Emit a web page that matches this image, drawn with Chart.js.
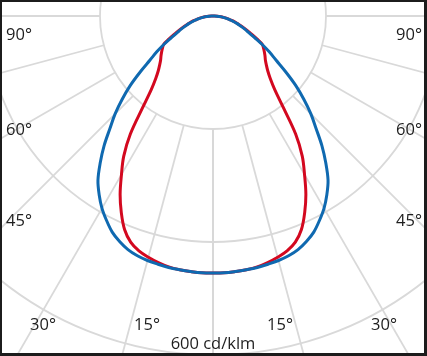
<!DOCTYPE html>
<html><head><meta charset="utf-8">
<script src="https://cdn.jsdelivr.net/npm/chart.js@4/dist/chart.umd.min.js"></script>
<style>
html,body{margin:0;padding:0;background:#fff;}
#wrap{position:relative;width:427px;height:356px;overflow:hidden;background:#fff;}
canvas{position:absolute;left:0;top:0;}
#frame{position:absolute;left:0;top:0;width:427px;height:356px;border:2px solid #1c1c1c;border-right-width:3px;border-bottom-width:3px;box-sizing:border-box;pointer-events:none;}
</style></head><body>
<div id="wrap"><canvas id="c" width="427" height="356"></canvas><div id="frame"></div></div>
<script>
// gamma angles (degrees from nadir), one half of the symmetric curve
const halfAngles = [0,2.5,5,7.5,10,12.5,15,17.5,20,22.5,25,27.5,30,32.5,35,37.5,40,42.5,45,47.5,50,52.5,55,57.5,60,62.5,65,67.5,70,72.5,75,77.5,80,82.5,85,87.5,90];
// luminous intensity, cd/klm
const blueValues = [455,455,454,453,452,450,448,445,440,432,422,408,393,375,355,328,300,270,245,218,191,162,136,118,100,83,70,61,52,45,37,30,24,18,13,7,0];
const redValues  = [455,455,454,453,451,447,442,436,426,409,384,356,324,294,255,205,170,150,137,128,121,116,111,106,101,87,74,64,55,46,39,31,25,19,14,8,0];
const ringValues = [200,400,600];
const spokeAngles = [0,15,30,45,60,75,90];
const angleLabels = ['90°','90°','60°','60°','45°','45°','30°','30°','15°','15°'];
const unitLabel = '600 cd/klm';

const step = halfAngles[1] - halfAngles[0];
const nFull = Math.round(360 / step);
const fullLabels = [];
const lookup = (arr, g) => { const i = halfAngles.indexOf(g); return i >= 0 ? arr[i] : 0; };
const blueFull = [], redFull = [];
for (let i = 0; i < nFull; i++) {
  const a = i * step;
  const g = a <= 180 ? a : 360 - a;
  fullLabels.push(a);
  blueFull.push(lookup(blueValues, g));
  redFull.push(lookup(redValues, g));
}

const GRID = '#d9d9d9';
const TEXT = '#1e1e1e';
const FONT = '16.5px "Open Sans", "DejaVu Sans", sans-serif';

// layout of the diagram inside the frame
const CENTER = {x: 213, y: 16, radius: 339};
const labelPos = [[19,35],[409,35],[19,130],[409,130],[19,221],[409,221],[43,325],[384,325],[147,325],[280,325]];
const unitPos = [213,344];

const polarPlacement = {
  id: 'polarPlacement',
  afterLayout(chart) {
    const s = chart.scales.r;
    s.xCenter = CENTER.x; s.yCenter = CENTER.y; s.drawingArea = CENTER.radius;
  },
  beforeDatasetsDraw(chart) {
    const s = chart.scales.r, ctx = chart.ctx;
    const r0 = s.getDistanceFromCenterForValue(ringValues[0]);
    const r1 = s.getDistanceFromCenterForValue(ringValues[ringValues.length-1] * 2);
    ctx.save();
    ctx.strokeStyle = GRID; ctx.lineWidth = 1.8;
    spokeAngles.forEach(a => {
      [a, -a].forEach(g => {
        const t = (90 + g) * Math.PI / 180;
        ctx.beginPath();
        ctx.moveTo(s.xCenter + r0 * Math.cos(t), s.yCenter + r0 * Math.sin(t));
        ctx.lineTo(s.xCenter + r1 * Math.cos(t), s.yCenter + r1 * Math.sin(t));
        ctx.stroke();
      });
    });
    ctx.restore();
  },
  afterDraw(chart) {
    const ctx = chart.ctx;
    ctx.save();
    ctx.fillStyle = TEXT; ctx.font = FONT;
    ctx.textAlign = 'center'; ctx.textBaseline = 'middle';
    angleLabels.forEach((t, i) => ctx.fillText(t, labelPos[i][0], labelPos[i][1]));
    ctx.fillText(unitLabel, unitPos[0], unitPos[1]);
    ctx.restore();
  }
};

new Chart(document.getElementById('c'), {
  type: 'radar',
  data: {
    labels: fullLabels,
    datasets: [
      {label: 'C0-C180', data: blueFull, borderColor: '#0f69b0', borderWidth: 3, fill: false, pointRadius: 0, tension: 0.35, borderJoinStyle: 'round'},
      {label: 'C90-C270', data: redFull, borderColor: '#d3081f', borderWidth: 3, fill: false, pointRadius: 0, tension: 0.35, borderJoinStyle: 'round'}
    ]
  },
  options: {
    responsive: false,
    devicePixelRatio: 1,
    animation: false,
    layout: {padding: 0},
    plugins: {legend: {display: false}, tooltip: {enabled: false}},
    scales: {
      r: {
        min: 0, max: 600,
        startAngle: 180,
        ticks: {display: false, stepSize: 200},
        pointLabels: {display: false},
        angleLines: {display: false},
        grid: {circular: true, color: GRID, lineWidth: 1.8}
      }
    }
  },
  plugins: [polarPlacement]
});
</script>
</body></html>
